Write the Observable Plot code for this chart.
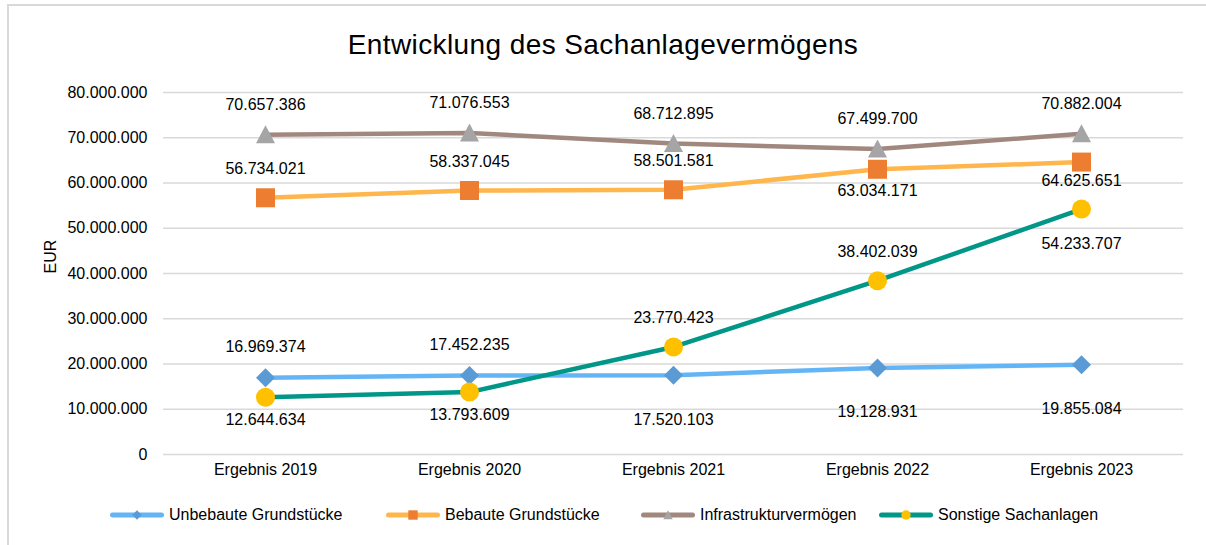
<!DOCTYPE html>
<html><head><meta charset="utf-8">
<script src="https://cdn.jsdelivr.net/npm/d3@7"></script>
<script src="https://cdn.jsdelivr.net/npm/@observablehq/plot@0.6"></script>
<style>
body{margin:0;background:#fff;font-family:"Liberation Sans",Arial,sans-serif;color:#000;}
#wrap{position:relative;width:1206px;height:545px;overflow:hidden;}
#frame{position:absolute;left:7px;top:4px;width:1300px;height:600px;border-top:2px solid #d9d9d9;border-left:2px solid #d9d9d9;}
#title{position:absolute;left:0;top:0;width:1206px;height:70px;text-align:center;font-size:28px;letter-spacing:0.4px;line-height:28px;padding-top:31px;box-sizing:border-box;}
#chart{position:absolute;left:0;top:70px;}
.leg{position:absolute;top:505px;height:20px;display:flex;align-items:center;font-size:16px;}
.leg svg{display:block;margin-right:3px;}
</style></head>
<body>
<div id="wrap">
<div id="frame"></div>
<div id="title">Entwicklung des Sachanlagevermögens</div>
<div id="chart"></div>
<div id="legend"></div>
</div>
<script>
// ---- data ----
const categories = ["Ergebnis 2019", "Ergebnis 2020", "Ergebnis 2021", "Ergebnis 2022", "Ergebnis 2023"];
const seriesNames = ["Unbebaute Grundstücke", "Bebaute Grundstücke", "Infrastrukturvermögen", "Sonstige Sachanlagen"];
const unbebaute = [16969374, 17452235, 17520103, 19128931, 19855084];
const bebaute = [56734021, 58337045, 58501581, 63034171, 64625651];
const infrastruktur = [70657386, 71076553, 68712895, 67499700, 70882004];
const sonstige = [12644634, 13793609, 23770423, 38402039, 54233707];
const yTicks = [0, 10000000, 20000000, 30000000, 40000000, 50000000, 60000000, 70000000, 80000000];
const yAxisLabel = "EUR";

// ---- layout / style (not data) ----
const lineColors = ["#64b5f6", "#ffb74d", "#a1887f", "#009688"];
const markerColors = ["#5b9bd5", "#ed7d31", "#a5a5a5", "#ffc000"];
const labelDy = [
  [-31, -31, 45, 44, 44],
  [-29, -29, -29, 22, 19],
  [-30, -30, -30, -30, -30],
  [23, 23, -29, -29, 35]
];
const rr = s => Math.sqrt(s / Math.PI);
const symbols = [
  {draw(c, s){const r = rr(s); c.moveTo(0,-r); c.lineTo(r,0); c.lineTo(0,r); c.lineTo(-r,0); c.closePath();}},
  {draw(c, s){const r = rr(s); c.rect(-r,-r,2*r,2*r);}},
  {draw(c, s){const r = rr(s); c.moveTo(0,-r); c.lineTo(r,r*0.9); c.lineTo(-r,r*0.9); c.closePath();}},
  {draw(c, s){const r = rr(s); c.moveTo(r,0); c.arc(0,0,r,0,2*Math.PI); c.closePath();}}
];

const values = [unbebaute, bebaute, infrastruktur, sonstige];
const de = d3.formatLocale({decimal: ",", thousands: ".", grouping: [3], currency: ["", " €"]});
const fmt = de.format(",d");

const rows = [];
values.forEach((arr, si) => arr.forEach((v, i) => rows.push({series: seriesNames[si], si, cat: categories[i], value: v, dy: labelDy[si][i]})));

const marks = [
  Plot.gridY(yTicks, {stroke: "#d9d9d9", strokeOpacity: 1, strokeWidth: 1.3}),
  Plot.axisY({ticks: yTicks, tickFormat: fmt, tickSize: 0, tickPadding: 16, label: null}),
  Plot.axisX({tickSize: 0, tickPadding: 9, label: null}),
  Plot.text([yAxisLabel], {frameAnchor: "left", dx: -113, rotate: -90, fontSize: 16})
];
seriesNames.forEach((name, si) => {
  marks.push(Plot.line(rows.filter(d => d.si === si), {x: "cat", y: "value", stroke: lineColors[si], strokeWidth: 4.5, strokeLinecap: "round", strokeLinejoin: "round"}));
});
seriesNames.forEach((name, si) => {
  marks.push(Plot.dot(rows.filter(d => d.si === si), {x: "cat", y: "value", r: 9.5, symbol: symbols[si], fill: markerColors[si], stroke: "none"}));
});
const dys = [...new Set(rows.map(d => d.dy))];
dys.forEach(dy => {
  marks.push(Plot.text(rows.filter(d => d.dy === dy), {x: "cat", y: "value", text: d => fmt(d.value), dy, fontSize: 16, fill: "#000"}));
});

const chart = Plot.plot({
  width: 1206,
  height: 420,
  marginTop: 22,
  marginBottom: 36,
  marginLeft: 163,
  marginRight: 23,
  x: {type: "point", domain: categories, padding: 0.5},
  y: {domain: [0, 80000000]},
  style: {fontSize: "16px", fontFamily: "'Liberation Sans', Arial, sans-serif", color: "#000", background: "transparent", overflow: "visible"},
  marks
});
document.getElementById("chart").appendChild(chart);

// legend
const legLeft = [108, 384, 639, 877];
const legend = document.getElementById("legend");
seriesNames.forEach((name, si) => {
  const item = document.createElement("div");
  item.className = "leg";
  item.style.left = legLeft[si] + "px";
  const svg = d3.create("svg").attr("width", 58).attr("height", 20);
  svg.append("line").attr("x1", 4.5).attr("x2", 53.5).attr("y1", 10).attr("y2", 10)
    .attr("stroke", lineColors[si]).attr("stroke-width", 5).attr("stroke-linecap", "round");
  const sz = Math.PI * 4.7 * 4.7;
  const p = d3.path(); symbols[si].draw(p, sz);
  svg.append("path").attr("d", p.toString()).attr("transform", "translate(29,10)").attr("fill", markerColors[si]);
  item.appendChild(svg.node());
  const t = document.createElement("span"); t.textContent = name; item.appendChild(t);
  legend.appendChild(item);
});
</script>
</body></html>
